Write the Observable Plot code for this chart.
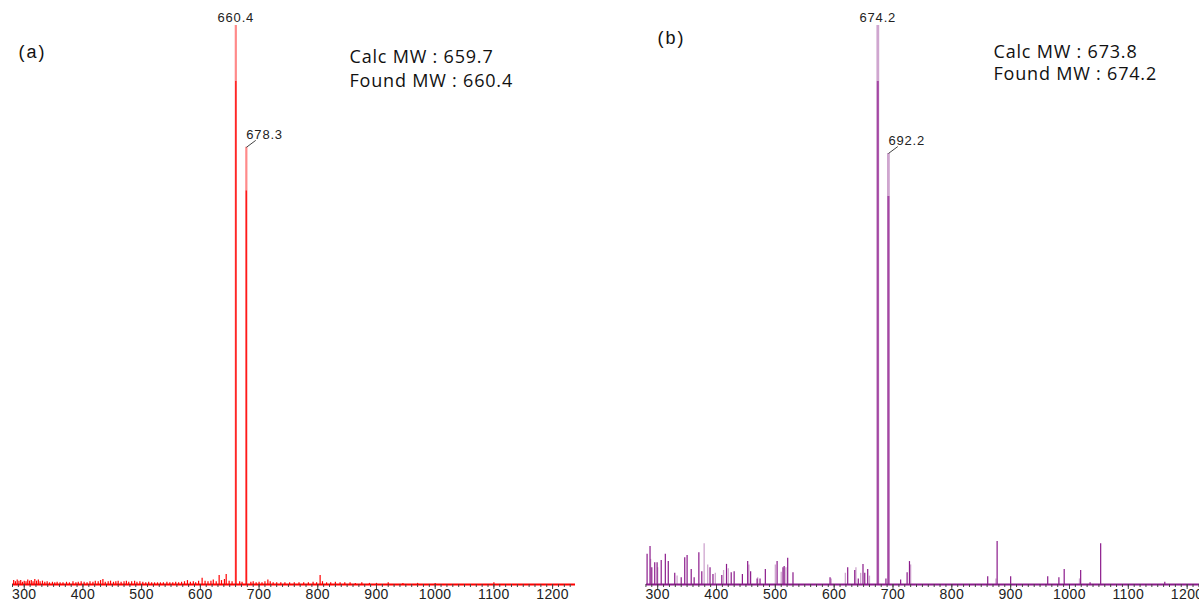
<!DOCTYPE html>
<html><head><meta charset="utf-8">
<script src="https://cdn.jsdelivr.net/npm/d3@7"></script>
<script src="https://cdn.jsdelivr.net/npm/@observablehq/plot@0.6"></script>
<style>
html,body{margin:0;padding:0;background:#fff;}
#wrap{position:relative;width:1199px;height:602px;overflow:hidden;}
#pa{position:absolute;left:0;top:0;}
#pb{position:absolute;left:600px;top:0;}
</style></head><body><div id="wrap"><div id="pa"></div><div id="pb"></div></div>
<script>
// ---- axis tick labels (m/z) ----
const mzTicks = [300, 400, 500, 600, 700, 800, 900, 1000, 1100, 1200];

// ---- panel (a) ----
const mainMzA = [660.4, 678.3];
const mainHA = [100, 78.2];
const noiseMzA = [282,285,288,291,294,297,300,303,306,309,312,315,318,321,324,327,331,335,339,343,348,352,356,361,366,372,377,383,388,392,397,402,407,412,417,421,426,430,434,438,443,447,452,456,460,465,470,474,478,483,488,492,497,502,507,512,517,522,527,532,537,543,548,553,558,563,568,573,578,583,588,592,597,603,608,613,618,622,627,632,636,641,644,649,654,667,671,686,690,695,700,705,710,715,719,724,730,737,744,752,760,768,776,784,792,798,804,808,815,822,830,838,846,855,864,875,888,900,920,945,970,1000,1100];
const noiseHA = [0.7,0.5,0.8,0.6,0.7,0.4,0.6,0.5,0.8,0.6,0.7,0.5,0.9,0.6,0.8,0.5,0.6,0.4,0.5,0.3,0.4,0.3,0.4,0.3,0.3,0.4,0.3,0.5,0.3,0.4,0.5,0.4,0.3,0.5,0.4,0.6,0.5,0.7,0.9,0.4,0.5,0.6,0.4,0.5,0.6,0.4,0.5,0.6,0.4,0.5,0.6,0.4,0.5,0.4,0.3,0.4,0.3,0.3,0.3,0.3,0.3,0.4,0.3,0.3,0.4,0.3,0.4,0.5,0.7,0.4,0.5,0.3,0.6,1.1,0.6,0.5,0.6,0.8,0.5,1.6,0.7,0.9,1.8,0.6,0.5,0.5,0.4,0.4,0.5,0.3,0.4,0.3,0.5,0.8,0.5,0.3,0.3,0.3,0.3,0.3,0.3,0.3,0.3,0.3,0.4,0.3,1.6,0.5,0.3,0.3,0.4,0.3,0.3,0.3,0.2,0.3,0.2,0.2,0.3,0.2,0.2,0.2,0.3];
const mwA = ["Calc MW : 659.7", "Found MW : 660.4"];

// ---- panel (b) ----
const mainMzB = [674.2, 692.2];
const mainHB = [100, 77.1];
const darkMzB = [282,287,290,295,299,306,313,318,329,340,346,350,357,362,370,375,389,394,409,417,425,430,444,453,458,469,474,483,503,513,515,521,530,593,623,635,641,649,652,657,688,713,724,728,861,877,900,963,982,991,1019,1035,1053,1162];
const darkHB = [5.4,6.8,3.0,3.9,3.9,4.3,5.4,4.1,2.0,1.2,4.8,5.2,2.7,1.2,5.7,2.3,3.0,1.8,1.6,3.6,2.1,2.3,1.8,4.1,2.3,1.0,1.0,2.7,4.1,3.0,3.2,4.7,2.1,1.2,3.0,2.5,1.0,3.6,2.0,2.7,1.0,0.8,2.1,4.1,1.4,7.7,1.4,1.4,1.2,2.7,2.5,0.3,7.3,0.4];
const lightMzB = [288,300,333,379,385,398,412,420,455,470,500,510,518,595,619,637,645,660,730,875,1017];
const lightHB = [4.5,3.0,1.5,7.3,3.5,2.0,2.5,2.8,3.5,1.2,3.5,2.2,3.0,1.0,2.0,3.0,2.0,1.5,3.5,1.0,1.0];
const mwB = ["Calc MW : 673.8", "Found MW : 674.2"];

const zip = (m, h) => m.map((mz, i) => ({mz, h: h[i]}));
const minorTicks = d3.range(280, 1240, 10);

function panel(o) {
  const main = zip(o.mainMz, o.mainH);
  const mwStyle = {frameAnchor: "top-left", dx: o.mwDx, textAnchor: "start", fontSize: 18, fill: "#111", fontFamily: "'Open Sans', sans-serif"};
  const svg = Plot.plot({
    width: o.width, height: 602,
    marginLeft: o.ml, marginRight: o.mr, marginTop: 25, marginBottom: 18,
    style: {fontFamily: "'Liberation Sans', Arial, sans-serif", background: "#fff", fontSize: "14px"},
    x: {domain: o.domain, label: null},
    y: {domain: [0, 100], axis: null},
    marks: [
      Plot.ruleX(zip(o.lightMz, o.lightH), {x: "mz", y1: 0, y2: "h", stroke: o.light, strokeWidth: 1.3}),
      Plot.ruleX(zip(o.minorMz, o.minorH), {x: "mz", y1: 0, y2: "h", stroke: o.color, strokeWidth: 1.2}),
      Plot.ruleX(main, {x: "mz", y1: 0, y2: "h", stroke: o.light, strokeWidth: o.mainW}),
      Plot.ruleX(main, {x: "mz", y1: 0, y2: d => d.h * 0.9, stroke: o.core, strokeWidth: o.mainW - 0.8}),
      Plot.ruleY([0], {stroke: o.color, strokeWidth: 1.8}),
      Plot.axisX(mzTicks, {anchor: "bottom", tickSize: 5, tickPadding: 0, fontSize: 14, fill: "#222", stroke: "#444", label: null, tickFormat: d => String(d)}),
      Plot.axisX(minorTicks, {anchor: "bottom", tickSize: 3, text: null, stroke: "#444", label: null}),
      // peak labels
      Plot.text([main[0]], {x: "mz", y: "h", text: d => d.mz.toFixed(1), dy: -8, fontSize: 13, fill: "#222"}),
      Plot.text([main[1]], {x: "mz", y: "h", text: d => d.mz.toFixed(1), dy: -13, textAnchor: "start", fontSize: 13, fill: "#222"}),
      Plot.link([main[1]], {x1: "mz", y1: "h", x2: d => d.mz + 16, y2: d => d.h + 1.25, stroke: "#444", strokeWidth: 1}),
      // panel label
      Plot.text([o.tag], {frameAnchor: "top-left", dx: o.tagDx, dy: o.tagDy, textAnchor: "start", fontSize: 18, fill: "#111"}),
      Plot.text([o.mw[0]], {...mwStyle, dy: o.mwDy}),
      Plot.text([o.mw[1]], {...mwStyle, dy: o.mwDy + o.mwGap})
    ]
  });
  // widen text slightly to match the reference's stretched glyphs
  d3.select(svg).selectAll("text").each(function () {
    const t = this.textContent;
    let ls = null;
    if (o.mw.includes(t)) ls = "0.8px";
    else if (t === o.tag) ls = "2px";
    else if (main.some(d => d.mz.toFixed(1) === t)) ls = "0.8px";
    else if (mzTicks.map(String).includes(t)) ls = "0.4px";
    if (ls) this.style.letterSpacing = ls;
  });
  return svg;
}

document.getElementById("pa").appendChild(panel({
  width: 600, ml: 12, mr: 25, domain: [280, 1239],
  mainMz: mainMzA, mainH: mainHA, minorMz: noiseMzA, minorH: noiseHA, lightMz: [], lightH: [],
  color: "#ff0000", light: "#ff8a8a", core: "#ff1a1a", mainW: 2.2,
  tag: "(a)", tagDx: 6, tagDy: 20, mw: mwA, mwDx: 337, mwDy: 25, mwGap: 24
}));
document.getElementById("pb").appendChild(panel({
  width: 599, ml: 46, mr: 0, domain: [281, 1221],
  mainMz: mainMzB, mainH: mainHB, minorMz: darkMzB, minorH: darkHB, lightMz: lightMzB, lightH: lightHB,
  color: "#8b1a8b", light: "#cfa6cf", core: "#a447a4", mainW: 2.8,
  tag: "(b)", tagDx: 11, tagDy: 6, mw: mwB, mwDx: 347, mwDy: 20, mwGap: 22
}));
</script>
</body></html>
